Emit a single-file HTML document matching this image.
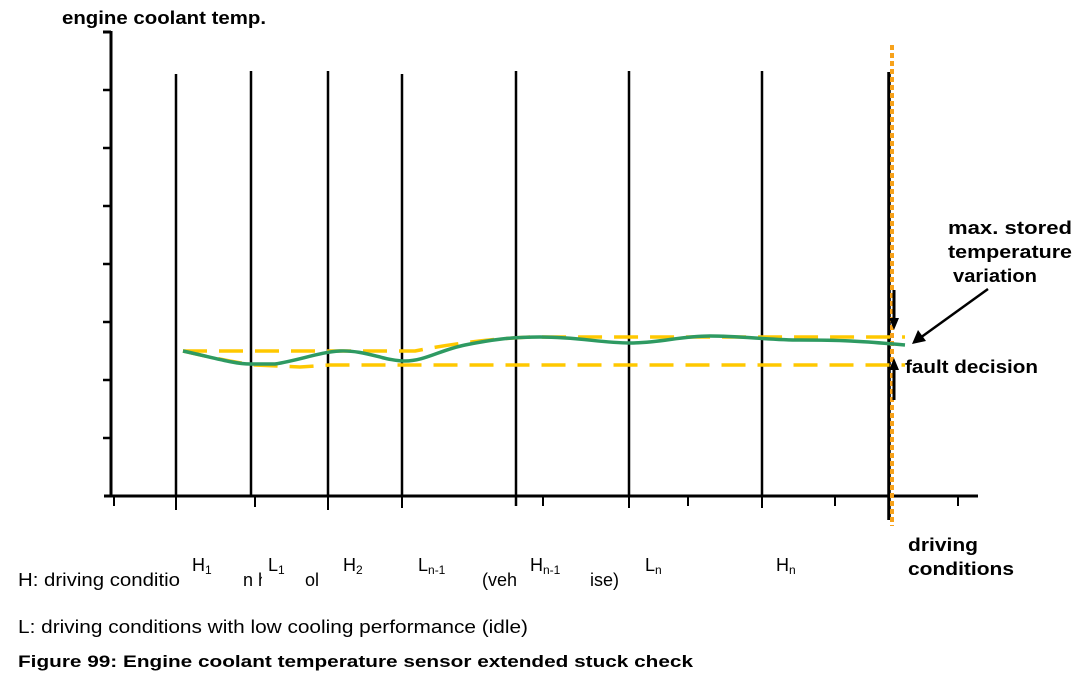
<!DOCTYPE html>
<html><head><meta charset="utf-8"><style>
html,body{margin:0;padding:0;background:#fff;}
svg{display:block;font-family:"Liberation Sans",Arial,sans-serif;}
</style></head><body>
<svg width="1085" height="683" viewBox="0 0 1085 683" xmlns="http://www.w3.org/2000/svg">
<rect width="1085" height="683" fill="#fff"/>
<text x="62" y="24" font-size="18" font-weight="bold" textLength="204" lengthAdjust="spacingAndGlyphs">engine coolant temp.</text>
<g stroke="#000" stroke-width="3" fill="none">
<line x1="111" y1="31" x2="111" y2="497"/>
<line x1="103" y1="32" x2="111" y2="32"/>
<line x1="104" y1="496" x2="978" y2="496"/>
</g>
<g stroke="#000" stroke-width="2.5">
<line x1="103" y1="90" x2="111" y2="90"/>
<line x1="103" y1="148" x2="111" y2="148"/>
<line x1="103" y1="206" x2="111" y2="206"/>
<line x1="103" y1="264" x2="111" y2="264"/>
<line x1="103" y1="322" x2="111" y2="322"/>
<line x1="103" y1="380" x2="111" y2="380"/>
<line x1="103" y1="438" x2="111" y2="438"/>
</g>
<g stroke="#000" stroke-width="2">
<line x1="114" y1="496" x2="114" y2="506"/>
<line x1="176" y1="496" x2="176" y2="510"/>
<line x1="255" y1="496" x2="255" y2="507"/>
<line x1="328" y1="496" x2="328" y2="510"/>
<line x1="402" y1="496" x2="402" y2="508"/>
<line x1="543" y1="496" x2="543" y2="506"/>
<line x1="629" y1="496" x2="629" y2="508"/>
<line x1="688" y1="496" x2="688" y2="506"/>
<line x1="762" y1="496" x2="762" y2="508"/>
<line x1="835" y1="496" x2="835" y2="506"/>
<line x1="958" y1="496" x2="958" y2="506"/>
</g>
<g stroke="#000" stroke-width="2.5">
<line x1="176" y1="74" x2="176" y2="496"/>
<line x1="251" y1="71" x2="251" y2="496"/>
<line x1="328" y1="71" x2="328" y2="496"/>
<line x1="402" y1="74" x2="402" y2="496"/>
<line x1="516" y1="71" x2="516" y2="506"/>
<line x1="629" y1="71" x2="629" y2="496"/>
<line x1="762" y1="71" x2="762" y2="496"/>
<line x1="889" y1="72" x2="889" y2="520" stroke-width="3.5"/>
</g>
<line x1="892" y1="45" x2="892" y2="526" stroke="#f7a21b" stroke-width="4" stroke-dasharray="5,3"/>
<g stroke="#ffc800" stroke-width="3.5" fill="none" stroke-dasharray="24,12">
<path d="M183,351 L415,351 Q470,340 530,337 L905,337"/>
<path d="M183,351 Q230,362 255,365 L300,367 L330,365 L905,365"/>
</g>
<path d="M183,351 C215,358 235,364 250,364 L275,364 C300,360 320,352 340,351 C365,350 385,361 405,361 C425,361 440,350 465,345 C490,340 510,337 540,337 C580,337 600,343 630,343 C660,343 680,336 710,336 C740,336 770,340 800,340 C840,340 860,341 905,345" stroke="#2e9a62" stroke-width="3.5" fill="none"/>
<g stroke="#000" stroke-width="3" fill="#000">
<line x1="894" y1="290" x2="894" y2="320"/>
<polygon points="889,318 899,318 894,330" stroke="none"/>
<line x1="894" y1="400" x2="894" y2="368"/>
<polygon points="889,370 899,370 894,358" stroke="none"/>
<line x1="988" y1="289" x2="920" y2="338" stroke-width="2.5"/>
<polygon points="912,344 918,330 926,341" stroke="none"/>
</g>
<g font-size="18" font-weight="bold">
<text x="948" y="234" textLength="124" lengthAdjust="spacingAndGlyphs">max. stored</text>
<text x="948" y="258" textLength="124" lengthAdjust="spacingAndGlyphs">temperature</text>
<text x="953" y="282" textLength="84" lengthAdjust="spacingAndGlyphs">variation</text>
<text x="905" y="373" textLength="133" lengthAdjust="spacingAndGlyphs">fault decision</text>
<text x="908" y="551" textLength="70" lengthAdjust="spacingAndGlyphs">driving</text>
<text x="908" y="575" textLength="106" lengthAdjust="spacingAndGlyphs">conditions</text>
<text x="18" y="667" font-size="17" textLength="675" lengthAdjust="spacingAndGlyphs">Figure 99: Engine coolant temperature sensor extended stuck check</text>
</g>
<g font-size="18">
<text x="18" y="586" textLength="162" lengthAdjust="spacingAndGlyphs">H: driving conditio</text>
<text x="243" y="586">n h</text>
<text x="305" y="586">ol</text>
<text x="482" y="586">(veh</text>
<text x="590" y="586">ise)</text>
<text x="18" y="633" textLength="510" lengthAdjust="spacingAndGlyphs">L: driving conditions with low cooling performance (idle)</text>
</g>
<g font-size="18" fill="#000">
<rect x="185" y="548" width="40" height="44" fill="#fff"/>
<rect x="262" y="548" width="36" height="44" fill="#fff"/>
<rect x="337" y="548" width="42" height="44" fill="#fff"/>
<rect x="520" y="548" width="58" height="44" fill="#fff"/>
<text x="192" y="571">H<tspan font-size="12" dy="3">1</tspan></text>
<text x="268" y="571">L<tspan font-size="12" dy="3">1</tspan></text>
<text x="343" y="571">H<tspan font-size="12" dy="3">2</tspan></text>
<text x="418" y="571">L<tspan font-size="12" dy="3">n-1</tspan></text>
<text x="530" y="571">H<tspan font-size="12" dy="3">n-1</tspan></text>
<text x="645" y="571">L<tspan font-size="12" dy="3">n</tspan></text>
<text x="776" y="571">H<tspan font-size="12" dy="3">n</tspan></text>
</g>
</svg>
</body></html>
